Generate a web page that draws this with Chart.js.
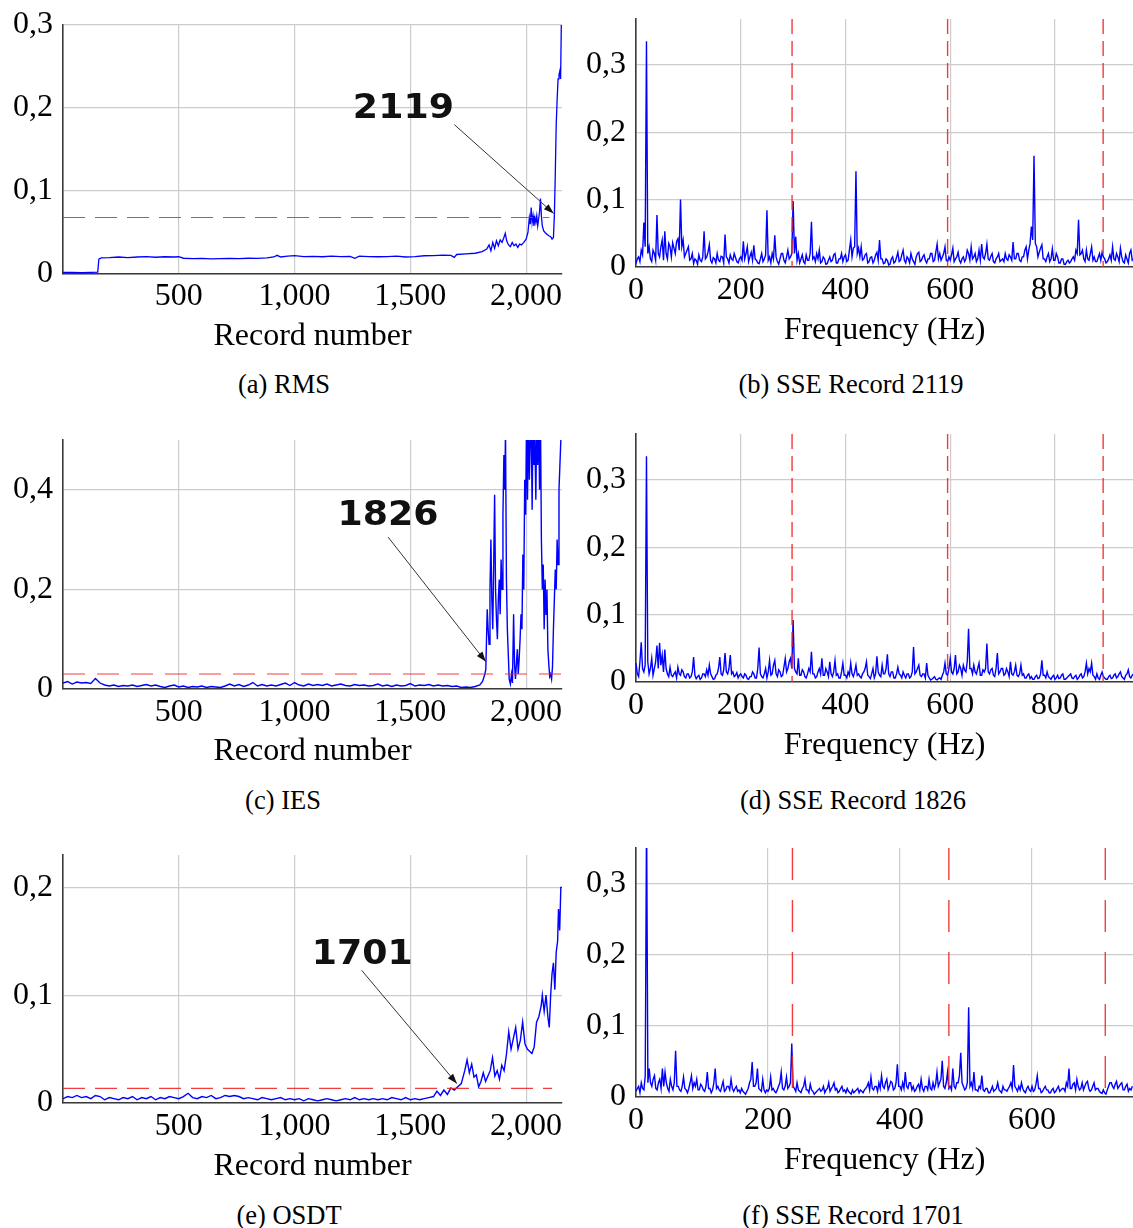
<!DOCTYPE html>
<html>
<head>
<meta charset="utf-8">
<script src="https://cdn.jsdelivr.net/npm/chart.js@4.4.1/dist/chart.umd.min.js"></script>
<style>
  body { margin: 0; background: #fff; width: 1133px; height: 1228px; position: relative; overflow: hidden; }
  canvas { position: absolute; }
  .cap { position: absolute; font-family: "Liberation Serif", "Times New Roman", serif; font-size: 26.5px; color: #000;
         transform: translate(-50%, -50%); white-space: nowrap; }
</style>
</head>
<body>
<canvas id="cA"></canvas>
<canvas id="cB"></canvas>
<canvas id="cC"></canvas>
<canvas id="cD"></canvas>
<canvas id="cE"></canvas>
<canvas id="cF"></canvas>
<div class="cap" style="left:284px;top:384px">(a) RMS</div>
<div class="cap" style="left:851px;top:384px">(b) SSE Record 2119</div>
<div class="cap" style="left:283px;top:800px">(c) IES</div>
<div class="cap" style="left:853px;top:800px">(d) SSE Record 1826</div>
<div class="cap" style="left:289px;top:1215px">(e) OSDT</div>
<div class="cap" style="left:853px;top:1215px">(f) SSE Record 1701</div>
<script>
// ---- indicator curves: [record number, value] ----
const rmsPoints = [
  [0,0.002],[40,0.0018],[80,0.0015],[120,0.002],[150,0.0022],[155,0.018],[165,0.0195],[200,0.0198],[240,0.0205],[280,0.0198],
  [320,0.0205],[360,0.021],[400,0.0202],[440,0.0208],[480,0.0205],[500,0.0208],[520,0.019],[560,0.0185],[600,0.0188],[640,0.0182],
  [680,0.0186],[720,0.0188],[760,0.0185],[800,0.019],[840,0.0188],[880,0.0195],[910,0.0205],[925,0.0225],[940,0.0205],[970,0.0215],
  [1000,0.0222],[1040,0.021],[1080,0.0212],[1120,0.0208],[1160,0.0215],[1200,0.021],[1240,0.0212],[1260,0.019],[1280,0.0215],[1320,0.021],
  [1360,0.0208],[1400,0.021],[1440,0.0215],[1480,0.0205],[1520,0.021],[1560,0.022],[1600,0.0222],[1640,0.0228],[1675,0.0225],[1690,0.020],
  [1700,0.0235],[1740,0.0242],[1780,0.025],[1810,0.027],[1830,0.03],[1840,0.035],[1848,0.028],[1856,0.038],[1864,0.031],[1872,0.04],
  [1880,0.034],[1888,0.041],[1896,0.038],[1904,0.044],[1910,0.049],[1916,0.04],[1924,0.035],[1932,0.033],[1940,0.038],[1948,0.034],
  [1956,0.036],[1964,0.032],[1972,0.036],[1980,0.035],[1990,0.038],[2000,0.042],[2008,0.05],[2014,0.068],[2018,0.06],[2022,0.08],
  [2026,0.062],[2030,0.07],[2034,0.058],[2038,0.068],[2042,0.062],[2046,0.07],[2050,0.058],[2054,0.066],[2058,0.075],[2062,0.091],
  [2066,0.07],[2070,0.058],[2076,0.052],[2082,0.05],[2090,0.048],[2098,0.046],[2106,0.045],[2112,0.042],[2118,0.044],[2122,0.07],
  [2126,0.12],[2130,0.18],[2134,0.21],[2138,0.235],[2142,0.24],[2146,0.245],[2149,0.235],[2152,0.3],[2155,0.31]
];

const iesPoints = [
  [0,0.012],[20,0.015],[40,0.01],[60,0.014],[80,0.012],[100,0.013],[120,0.011],[140,0.021],[160,0.012],[180,0.008],
  [200,0.006],[220,0.008],[240,0.005],[260,0.007],[280,0.006],[300,0.008],[320,0.005],[340,0.007],[360,0.009],[380,0.006],
  [400,0.008],[420,0.005],[440,0.003],[460,0.006],[480,0.008],[500,0.004],[520,0.006],[540,0.003],[560,0.005],[580,0.004],
  [600,0.006],[620,0.003],[640,0.005],[660,0.004],[680,0.003],[700,0.006],[720,0.01],[740,0.006],[760,0.009],[780,0.005],
  [800,0.008],[820,0.013],[840,0.006],[860,0.009],[880,0.006],[900,0.008],[920,0.006],[940,0.009],[960,0.012],[980,0.007],
  [1000,0.013],[1020,0.008],[1040,0.006],[1060,0.01],[1080,0.007],[1100,0.009],[1120,0.007],[1140,0.01],[1160,0.006],[1180,0.008],
  [1200,0.01],[1220,0.007],[1240,0.006],[1260,0.009],[1280,0.007],[1300,0.008],[1320,0.006],[1340,0.007],[1360,0.01],[1380,0.006],
  [1400,0.008],[1420,0.005],[1440,0.008],[1460,0.006],[1480,0.007],[1500,0.011],[1520,0.006],[1540,0.008],[1560,0.007],[1580,0.009],
  [1600,0.006],[1620,0.008],[1640,0.006],[1660,0.007],[1680,0.005],[1700,0.006],[1720,0.003],[1740,0.004],[1760,0.003],[1780,0.005],
  [1800,0.008],[1812,0.015],[1822,0.03],[1826,0.04],[1829,0.1],[1832,0.16],[1836,0.12],[1840,0.09],[1844,0.2],[1848,0.3],
  [1852,0.18],[1856,0.12],[1860,0.25],[1864,0.39],[1868,0.2],[1872,0.14],[1876,0.1],[1880,0.18],[1884,0.22],[1888,0.15],
  [1892,0.26],[1896,0.2],[1900,0.35],[1904,0.47],[1908,0.4],[1911,0.52],[1915,0.22],[1919,0.12],[1923,0.07],[1927,0.02],
  [1932,0.01],[1937,0.03],[1941,0.012],[1946,0.15],[1950,0.05],[1954,0.02],[1958,0.05],[1962,0.08],[1966,0.03],[1970,0.06],
  [1974,0.1],[1978,0.15],[1982,0.12],[1986,0.27],[1990,0.2],[1994,0.42],[1998,0.35],[2002,0.55],[2006,0.38],[2010,0.55],
  [2014,0.42],[2018,0.5],[2022,0.55],[2026,0.36],[2030,0.55],[2034,0.45],[2038,0.5],[2042,0.38],[2046,0.55],[2050,0.45],
  [2054,0.55],[2058,0.4],[2062,0.55],[2066,0.3],[2070,0.2],[2074,0.25],[2078,0.12],[2082,0.22],[2086,0.15],[2090,0.2],
  [2094,0.08],[2098,0.05],[2102,0.025],[2106,0.03],[2110,0.02],[2114,0.045],[2118,0.12],[2122,0.18],[2126,0.24],[2130,0.2],
  [2134,0.3],[2138,0.25],[2142,0.4],[2146,0.45],[2150,0.5],[2155,0.52]
];

const osdtPoints = [
  [0,0.004],[20,0.006],[40,0.005],[60,0.007],[80,0.005],[100,0.006],[120,0.004],[140,0.007],[160,0.006],[180,0.003],
  [200,0.005],[220,0.004],[240,0.003],[260,0.005],[280,0.004],[300,0.006],[320,0.003],[340,0.005],[360,0.004],[380,0.006],
  [400,0.003],[420,0.005],[440,0.004],[460,0.006],[480,0.005],[500,0.004],[520,0.006],[540,0.009],[560,0.005],[580,0.004],
  [600,0.006],[620,0.005],[640,0.007],[660,0.004],[680,0.005],[700,0.007],[720,0.006],[740,0.007],[760,0.006],[780,0.004],
  [800,0.005],[820,0.004],[840,0.003],[860,0.005],[880,0.004],[900,0.003],[920,0.004],[940,0.005],[960,0.003],[980,0.004],
  [1000,0.003],[1020,0.004],[1040,0.002],[1060,0.004],[1080,0.003],[1100,0.002],[1120,0.003],[1140,0.004],[1160,0.003],[1180,0.002],
  [1200,0.003],[1220,0.004],[1240,0.003],[1260,0.005],[1280,0.003],[1300,0.004],[1320,0.003],[1340,0.004],[1360,0.003],[1380,0.004],
  [1400,0.003],[1420,0.005],[1440,0.004],[1460,0.003],[1480,0.005],[1500,0.003],[1520,0.004],[1540,0.003],[1560,0.004],[1580,0.005],
  [1600,0.006],[1615,0.011],[1630,0.007],[1645,0.012],[1660,0.008],[1675,0.014],[1690,0.012],[1705,0.015],[1720,0.018],[1735,0.03],
  [1745,0.04],[1755,0.028],[1765,0.036],[1775,0.024],[1785,0.026],[1795,0.015],[1805,0.02],[1815,0.028],[1825,0.02],[1835,0.025],
  [1845,0.03],[1855,0.042],[1865,0.025],[1875,0.03],[1885,0.022],[1895,0.035],[1905,0.03],[1915,0.045],[1925,0.066],[1935,0.05],
  [1945,0.06],[1955,0.07],[1965,0.05],[1975,0.058],[1985,0.075],[1995,0.055],[2005,0.05],[2015,0.048],[2025,0.046],[2035,0.052],
  [2045,0.075],[2055,0.08],[2065,0.09],[2070,0.1],[2078,0.085],[2086,0.1],[2094,0.08],[2100,0.07],[2106,0.1],[2112,0.12],
  [2118,0.13],[2124,0.105],[2130,0.14],[2136,0.15],[2140,0.18],[2145,0.16],[2150,0.2],[2155,0.2]
];

// alarm thresholds and where their dashed lines stop
const rmsThreshold = 0.068, rmsThresholdEnd = 2100;
const iesThreshold = 0.030, iesThresholdEnd = 2155;
const osdtThreshold = 0.0136, osdtThresholdEnd = 2112;

// ---- spectra, one value per frequency bin (one row = 100 Hz) ----
const binB = 2.5; // Hz
const sseB = [
  0.005,0.012,0.015,0.008,0.025,0.018,0.066,0.03,0.335,0.02,0.03,0.012,0.008,0.025,0.02,0.01,0.077,0.02,0.015,0.03,0.04,0.01,0.053,0.02,0.012,0.035,0.03,0.015,0.036,0.028,0.02,0.038,0.042,0.025,0.1,0.03,0.04,0.015,0.02,0.025,
  0.03,0.01,0.012,0.02,0.005,0.012,0.01,0.004,0.018,0.01,0.008,0.015,0.053,0.012,0.015,0.022,0.033,0.01,0.006,0.014,0.012,0.006,0.02,0.01,0.008,0.016,0.015,0.006,0.048,0.015,0.012,0.006,0.018,0.012,0.01,0.02,0.014,0.008,0.006,0.012,
  0.015,0.01,0.038,0.012,0.02,0.03,0.008,0.015,0.022,0.01,0.032,0.012,0.01,0.006,0.005,0.012,0.02,0.008,0.012,0.018,0.084,0.01,0.015,0.006,0.02,0.012,0.047,0.015,0.008,0.004,0.012,0.02,0.02,0.01,0.006,0.015,0.025,0.012,0.015,0.02,
  0.098,0.02,0.045,0.01,0.02,0.006,0.012,0.018,0.008,0.005,0.018,0.01,0.01,0.02,0.067,0.012,0.015,0.008,0.02,0.012,0.025,0.006,0.008,0.015,0.012,0.004,0.005,0.01,0.015,0.008,0.01,0.018,0.02,0.006,0.006,0.012,0.012,0.02,0.008,0.015,
  0.018,0.008,0.01,0.025,0.04,0.015,0.028,0.03,0.142,0.02,0.028,0.015,0.03,0.01,0.012,0.018,0.02,0.006,0.008,0.014,0.015,0.006,0.01,0.018,0.022,0.01,0.04,0.012,0.012,0.005,0.006,0.012,0.01,0.003,0.004,0.012,0.015,0.006,0.008,0.014,
  0.022,0.008,0.01,0.018,0.025,0.01,0.006,0.015,0.012,0.006,0.02,0.012,0.008,0.004,0.015,0.02,0.022,0.008,0.01,0.015,0.018,0.01,0.006,0.012,0.012,0.02,0.02,0.008,0.01,0.022,0.034,0.012,0.02,0.01,0.015,0.02,0.03,0.01,0.008,0.015,
  0.01,0.018,0.028,0.008,0.012,0.015,0.022,0.01,0.006,0.012,0.015,0.008,0.012,0.025,0.02,0.01,0.03,0.012,0.015,0.02,0.008,0.012,0.025,0.01,0.034,0.015,0.012,0.02,0.034,0.012,0.01,0.016,0.02,0.008,0.006,0.012,0.015,0.02,0.008,0.01,
  0.012,0.008,0.02,0.012,0.01,0.018,0.015,0.01,0.037,0.012,0.012,0.02,0.02,0.01,0.008,0.015,0.015,0.025,0.03,0.012,0.025,0.035,0.06,0.04,0.165,0.035,0.03,0.015,0.022,0.028,0.033,0.012,0.012,0.008,0.015,0.02,0.008,0.012,0.027,0.01,
  0.01,0.02,0.015,0.006,0.006,0.012,0.012,0.004,0.004,0.008,0.01,0.006,0.008,0.012,0.015,0.01,0.025,0.02,0.07,0.018,0.02,0.025,0.012,0.008,0.025,0.012,0.01,0.02,0.03,0.01,0.015,0.008,0.008,0.014,0.02,0.01,0.022,0.015,0.012,0.006,
  0.008,0.012,0.018,0.01,0.03,0.012,0.01,0.02,0.015,0.008,0.028,0.015,0.008,0.006,0.018,0.012,0.006,0.02,0.025,0.01,0.012
];
const binD = 2.5; // Hz
const sseD = [
  0.028,0.012,0.008,0.03,0.059,0.02,0.015,0.025,0.335,0.03,0.012,0.02,0.035,0.01,0.02,0.03,0.054,0.02,0.058,0.025,0.04,0.015,0.048,0.02,0.012,0.008,0.022,0.01,0.008,0.012,0.015,0.006,0.022,0.012,0.01,0.018,0.015,0.008,0.006,0.012,
  0.012,0.006,0.008,0.015,0.037,0.01,0.005,0.008,0.01,0.004,0.006,0.012,0.012,0.008,0.018,0.01,0.025,0.012,0.008,0.004,0.005,0.01,0.012,0.02,0.037,0.012,0.01,0.018,0.043,0.015,0.012,0.02,0.04,0.012,0.015,0.008,0.01,0.014,0.006,0.01,
  0.012,0.008,0.006,0.012,0.01,0.005,0.004,0.008,0.008,0.015,0.012,0.006,0.006,0.02,0.051,0.012,0.008,0.006,0.012,0.02,0.006,0.015,0.032,0.01,0.012,0.025,0.032,0.012,0.008,0.018,0.015,0.008,0.01,0.022,0.035,0.015,0.02,0.03,0.035,0.02,
  0.092,0.02,0.015,0.012,0.035,0.01,0.01,0.018,0.015,0.008,0.006,0.012,0.02,0.015,0.045,0.012,0.012,0.006,0.008,0.015,0.02,0.012,0.035,0.01,0.01,0.02,0.015,0.008,0.03,0.012,0.008,0.015,0.032,0.01,0.012,0.006,0.006,0.015,0.028,0.01,
  0.01,0.006,0.015,0.01,0.028,0.012,0.008,0.015,0.025,0.01,0.012,0.008,0.006,0.012,0.015,0.02,0.03,0.01,0.008,0.005,0.012,0.02,0.006,0.012,0.038,0.015,0.01,0.008,0.025,0.012,0.012,0.02,0.041,0.012,0.008,0.015,0.015,0.006,0.006,0.012,
  0.022,0.012,0.01,0.006,0.015,0.01,0.006,0.012,0.012,0.006,0.008,0.015,0.052,0.012,0.015,0.02,0.025,0.01,0.008,0.012,0.012,0.006,0.028,0.01,0.006,0.003,0.004,0.006,0.008,0.004,0.003,0.005,0.006,0.004,0.01,0.015,0.028,0.012,0.01,0.02,
  0.035,0.015,0.012,0.02,0.04,0.012,0.015,0.025,0.02,0.01,0.025,0.018,0.015,0.03,0.079,0.02,0.02,0.012,0.025,0.015,0.012,0.02,0.028,0.01,0.01,0.018,0.015,0.02,0.057,0.015,0.012,0.018,0.02,0.01,0.008,0.02,0.043,0.012,0.015,0.02,
  0.02,0.01,0.012,0.02,0.015,0.008,0.03,0.012,0.01,0.015,0.025,0.01,0.008,0.012,0.025,0.01,0.012,0.006,0.006,0.01,0.012,0.005,0.008,0.004,0.004,0.008,0.01,0.005,0.006,0.012,0.032,0.01,0.01,0.006,0.015,0.008,0.006,0.004,0.008,0.01,
  0.004,0.006,0.01,0.005,0.006,0.01,0.012,0.004,0.004,0.006,0.008,0.01,0.012,0.006,0.005,0.008,0.01,0.004,0.006,0.01,0.012,0.006,0.008,0.015,0.028,0.012,0.02,0.015,0.028,0.01,0.008,0.004,0.012,0.006,0.004,0.01,0.015,0.008,0.006,0.004,
  0.004,0.008,0.01,0.005,0.006,0.01,0.012,0.006,0.008,0.012,0.015,0.008,0.006,0.004,0.01,0.012,0.018,0.008,0.006,0.01,0.012
];
const binF = 2; // Hz
const sseF = [
  0.008,0.012,0.015,0.006,0.02,0.012,0.01,0.03,0.4,0.02,0.04,0.02,0.015,0.025,0.03,0.012,0.01,0.02,0.025,0.012,0.04,0.015,0.035,0.02,0.012,0.008,0.025,0.015,0.01,0.02,0.065,0.015,0.015,0.01,0.008,0.015,0.028,0.012,0.01,0.006,0.012,0.02,0.03,0.012,0.02,0.015,0.025,0.01,0.01,0.018,
  0.015,0.01,0.008,0.015,0.035,0.012,0.012,0.006,0.01,0.02,0.04,0.012,0.015,0.01,0.008,0.015,0.022,0.008,0.01,0.015,0.015,0.01,0.025,0.012,0.008,0.012,0.015,0.008,0.01,0.006,0.012,0.008,0.006,0.004,0.008,0.012,0.02,0.025,0.049,0.015,0.015,0.02,0.04,0.012,0.01,0.008,0.025,0.01,0.006,0.01,
  0.008,0.012,0.028,0.01,0.012,0.008,0.006,0.01,0.015,0.02,0.035,0.012,0.01,0.015,0.028,0.012,0.015,0.02,0.075,0.015,0.012,0.008,0.02,0.01,0.008,0.006,0.012,0.015,0.025,0.01,0.01,0.006,0.018,0.01,0.008,0.004,0.006,0.008,0.01,0.012,0.008,0.01,0.015,0.006,0.01,0.012,0.02,0.008,0.012,0.015,
  0.02,0.01,0.012,0.006,0.008,0.012,0.015,0.008,0.01,0.006,0.012,0.008,0.006,0.004,0.01,0.006,0.008,0.01,0.012,0.006,0.01,0.008,0.006,0.01,0.012,0.015,0.02,0.01,0.028,0.012,0.01,0.015,0.015,0.008,0.02,0.012,0.03,0.015,0.012,0.02,0.025,0.01,0.015,0.022,0.02,0.01,0.012,0.02,0.046,0.015,
  0.015,0.01,0.02,0.012,0.035,0.015,0.012,0.02,0.02,0.01,0.015,0.008,0.01,0.015,0.018,0.01,0.025,0.012,0.008,0.015,0.015,0.01,0.025,0.012,0.01,0.02,0.012,0.018,0.035,0.015,0.02,0.025,0.051,0.015,0.012,0.02,0.035,0.012,0.015,0.01,0.04,0.015,0.012,0.02,0.02,0.03,0.062,0.02,0.015,0.01,
  0.012,0.02,0.126,0.015,0.02,0.012,0.035,0.01,0.01,0.008,0.015,0.012,0.03,0.01,0.008,0.012,0.012,0.006,0.006,0.01,0.015,0.008,0.01,0.012,0.02,0.01,0.008,0.006,0.015,0.01,0.01,0.008,0.012,0.015,0.02,0.012,0.045,0.015,0.012,0.008,0.015,0.01,0.02,0.012,0.008,0.006,0.012,0.015,0.01,0.008,
  0.015,0.008,0.01,0.018,0.03,0.012,0.012,0.006,0.008,0.012,0.015,0.01,0.01,0.006,0.006,0.01,0.012,0.006,0.008,0.012,0.015,0.008,0.01,0.012,0.012,0.008,0.02,0.015,0.04,0.012,0.012,0.018,0.02,0.01,0.025,0.015,0.01,0.012,0.02,0.01,0.015,0.02,0.022,0.012,0.008,0.01,0.015,0.02,0.01,0.012,
  0.012,0.008,0.006,0.005,0.01,0.006,0.004,0.01,0.015,0.02,0.02,0.015,0.012,0.018,0.022,0.012,0.015,0.018,0.02,0.01,0.01,0.015,0.018,0.008,0.012,0.01,0.015
];
// rotation harmonics marked on the spectra (Hz)
const harmonicsBD = [298, 595, 892];
const harmonicsF = [237, 474, 711];

// ---- axis ticks ----
const recordTicks = [500, 1000, 1500, 2000];
const freqTicksBD = [0, 200, 400, 600, 800];
const freqTicksF = [0, 200, 400, 600];
const yTicksA = [0, 0.1, 0.2, 0.3];
const yTicksC = [0, 0.2, 0.4];
const yTicksE = [0, 0.1, 0.2];
const yTicksSSE = [0, 0.1, 0.2, 0.3];

// callouts: text, text centre, arrow tail, arrow tip (data units)
const calloutA = { text: '2119', at: [1470, 0.198], from: [1690, 0.18], to: [2119, 0.073] };
const calloutC = { text: '1826', at: [1404, 0.346], from: [1404, 0.305], to: [1826, 0.055] };
const calloutE = { text: '1701', at: [1292, 0.137], from: [1290, 0.123], to: [1701, 0.018] };

const serif = '"Liberation Serif", "Times New Roman", serif';
const FS = 32;
const BLUE = 'rgb(0,0,255)';
const RED = 'rgba(240,40,40,0.9)';

const calloutPlugin = {
  id: 'callout',
  afterDatasetsDraw(chart, args, o) {
    if (!o || !o.text) return;
    const { ctx, scales: { x, y } } = chart;
    const px = p => [x.getPixelForValue(p[0]), y.getPixelForValue(p[1])];
    const [tx, ty] = px(o.at), [x0, y0] = px(o.from), [x1, y1] = px(o.to);
    ctx.save();
    ctx.strokeStyle = '#333';
    ctx.lineWidth = 1;
    ctx.beginPath(); ctx.moveTo(x0, y0); ctx.lineTo(x1, y1); ctx.stroke();
    const a = Math.atan2(y1 - y0, x1 - x0), L = 10, W = 3.5;
    ctx.fillStyle = '#111';
    ctx.beginPath();
    ctx.moveTo(x1, y1);
    ctx.lineTo(x1 - L * Math.cos(a) + W * Math.sin(a), y1 - L * Math.sin(a) - W * Math.cos(a));
    ctx.lineTo(x1 - L * Math.cos(a) - W * Math.sin(a), y1 - L * Math.sin(a) + W * Math.cos(a));
    ctx.closePath(); ctx.fill();
    ctx.translate(tx, ty);
    ctx.scale(1.1, 1);
    ctx.font = 'bold 33px "DejaVu Sans", sans-serif';
    ctx.textAlign = 'center';
    ctx.textBaseline = 'middle';
    ctx.fillStyle = '#111';
    ctx.fillText(o.text, 0, 0);
    ctx.restore();
  }
};

const decimal = v => v === 0 ? '0' : String(v).replace('.', ',');
const thousands = v => v.toLocaleString('en-US');

function line(points, color, width, dash, order) {
  return { data: points, borderColor: color, borderWidth: width, borderDash: dash || [],
           pointRadius: 0, tension: 0, fill: false, order: order };
}
const fromPairs = arr => arr.map(p => ({ x: p[0], y: p[1] }));
const fromBins = (vals, bin) => vals.map((v, i) => ({ x: i * bin, y: v }));
const vLines = (freqs, top, dash) => freqs.map(f => line([{ x: f, y: top }, { x: f, y: 0 }], RED, 1.4, dash, 1));

// g: canvas left/top/right, plot area L/R/T/B, centre of x tick labels and of x title
function panel(id, g, xs, ys, datasets, callout) {
  const cv = document.getElementById(id);
  const h = Math.round(g.title + FS / 2 + 2 - g.y0);
  cv.width = g.x1 - g.x0; cv.height = h;
  cv.style.left = g.x0 + 'px'; cv.style.top = g.y0 + 'px';
  const yW = g.L - g.x0, xH = g.y0 + h - g.B;
  const tickPad = g.tick - g.B - FS / 2;
  const gridCol = 'rgb(204,204,204)';
  new Chart(cv, {
    type: 'line',
    data: { datasets },
    options: {
      responsive: false, animation: false, events: [],
      layout: { padding: { top: g.T - g.y0, right: g.x1 - g.R, left: 0, bottom: 0 } },
      plugins: { legend: { display: false }, tooltip: { enabled: false }, callout: callout || false },
      scales: {
        x: {
          type: 'linear', min: xs.min, max: xs.max,
          afterBuildTicks: s => { s.ticks = xs.ticks.map(v => ({ value: v })); },
          afterFit: s => { s.height = xH; s.paddingLeft = 0; s.paddingRight = 0; },
          grid: { color: gridCol, lineWidth: 1.2, drawTicks: false },
          border: { color: '#3a3a3a', width: 1.6 },
          ticks: { padding: tickPad, autoSkip: false, maxRotation: 0, color: '#000',
                   font: { family: serif, size: FS, lineHeight: 1 }, callback: xs.fmt },
          title: { display: true, text: xs.title, color: '#000',
                   font: { family: serif, size: FS, lineHeight: 1 }, padding: { top: 0, bottom: 2 } }
        },
        y: {
          type: 'linear', min: 0, max: ys.max,
          afterBuildTicks: s => { s.ticks = ys.ticks.map(v => ({ value: v })); },
          afterFit: s => { s.width = yW; s.paddingTop = 0; s.paddingBottom = 0; },
          grid: { color: gridCol, lineWidth: 1.2, drawTicks: false },
          border: { color: '#3a3a3a', width: 1.6 },
          ticks: { padding: 10, color: '#000', font: { family: serif, size: FS, lineHeight: 1 }, callback: decimal }
        }
      }
    },
    plugins: [calloutPlugin]
  });
}

const recAxis = { min: 0, max: 2155, ticks: recordTicks, fmt: thousands, title: 'Record number' };

panel('cA', { x0: 0, y0: 0, x1: 566, L: 63, R: 562, T: 25, B: 274, tick: 297, title: 337 },
  recAxis, { max: 0.3, ticks: yTicksA },
  [line([{ x: 0, y: rmsThreshold }, { x: rmsThresholdEnd, y: rmsThreshold }], RED, 1.1, [22, 10], 1),
   line(fromPairs(rmsPoints), BLUE, 1.3, null, 2)], calloutA);

panel('cB', { x0: 570, y0: 0, x1: 1133, L: 636, R: 1133, T: 19, B: 267, tick: 291, title: 331 },
  { min: 0, max: 949, ticks: freqTicksBD, fmt: v => String(v), title: 'Frequency (Hz)' },
  { max: 0.368, ticks: yTicksSSE },
  [...vLines(harmonicsBD, 0.368, [15, 7]), line(fromBins(sseB, binB), BLUE, 1.4, null, 2)]);

panel('cC', { x0: 0, y0: 415, x1: 566, L: 63, R: 562, T: 440, B: 689, tick: 713, title: 752 },
  recAxis, { max: 0.5, ticks: yTicksC },
  [line([{ x: 0, y: iesThreshold }, { x: iesThresholdEnd, y: iesThreshold }], RED, 1.1, [22, 12], 1),
   line(fromPairs(iesPoints), BLUE, 1.4, null, 2)], calloutC);

panel('cD', { x0: 570, y0: 415, x1: 1133, L: 636, R: 1133, T: 434, B: 682, tick: 706, title: 746 },
  { min: 0, max: 949, ticks: freqTicksBD, fmt: v => String(v), title: 'Frequency (Hz)' },
  { max: 0.368, ticks: yTicksSSE },
  [...vLines(harmonicsBD, 0.368, [15, 7]), line(fromBins(sseD, binD), BLUE, 1.4, null, 2)]);

panel('cE', { x0: 0, y0: 830, x1: 566, L: 63, R: 562, T: 855, B: 1103, tick: 1127, title: 1167 },
  recAxis, { max: 0.23, ticks: yTicksE },
  [line([{ x: 0, y: osdtThreshold }, { x: osdtThresholdEnd, y: osdtThreshold }], RED, 1.1, [22, 10], 1),
   line(fromPairs(osdtPoints), BLUE, 1.4, null, 2)], calloutE);

panel('cF', { x0: 570, y0: 830, x1: 1133, L: 636, R: 1133, T: 848, B: 1097, tick: 1121, title: 1161 },
  { min: 0, max: 753, ticks: freqTicksF, fmt: v => String(v), title: 'Frequency (Hz)' },
  { max: 0.35, ticks: yTicksSSE },
  [...vLines(harmonicsF, 0.35, [32, 20]), line(fromBins(sseF, binF), BLUE, 1.4, null, 2)]);
</script>
</body>
</html>
